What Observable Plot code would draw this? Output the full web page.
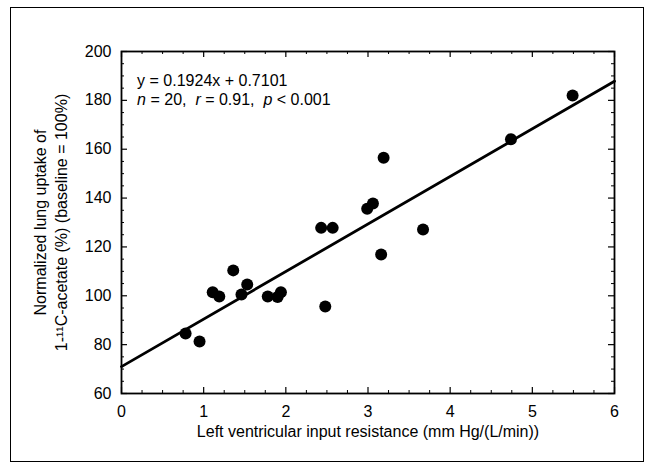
<!DOCTYPE html>
<html><head><meta charset="utf-8">
<script src="https://cdn.jsdelivr.net/npm/d3@7"></script>
<script src="https://cdn.jsdelivr.net/npm/@observablehq/plot@0.6"></script>
<style>
body{margin:0;background:#fff}
#wrap{position:relative;width:652px;height:468px}
#border{position:absolute;left:10px;top:7px;width:634px;height:455px;border:1.5px solid #000;box-sizing:border-box;pointer-events:none}
svg{display:block}
</style></head><body><div id="wrap"><div id="border"></div></div>
<script>
// Data
const resistance = [0.78, 0.95, 1.11, 1.19, 1.36, 1.46, 1.53, 1.78, 1.90, 1.94, 2.48, 2.43, 2.57, 2.99, 3.06, 3.19, 3.16, 3.67, 4.74, 5.49];
const uptake     = [84.6, 81.3, 101.4, 99.7, 110.4, 100.5, 104.6, 99.7, 99.5, 101.4, 95.6, 127.8, 127.8, 135.6, 137.8, 156.5, 116.9, 127.1, 164.1, 182.0];
const fitX = [0, 6];
const fitY = [71.0, 187.8];
const xTicks = [0, 1, 2, 3, 4, 5, 6];
const yTicks = [60, 80, 100, 120, 140, 160, 180, 200];
const xMinor = [0.25,0.5,0.75,1.25,1.5,1.75,2.25,2.5,2.75,3.25,3.5,3.75,4.25,4.5,4.75,5.25,5.5,5.75];
const yMinor = [65,70,75,85,90,95,105,110,115,125,130,135,145,150,155,165,170,175,185,190,195];
const xLabel = "Left ventricular input resistance (mm Hg/(L/min))";
const yLabel1 = "Normalized lung uptake of";
const yLabel2 = "1-\u00B9\u00B9C-acetate (%) (baseline = 100%)";
const eqText = "y = 0.1924x + 0.7101";
const statsText = "n = 20,  r = 0.91,  p < 0.001";
const annX = 0.19;
const annY = [188.1, 180.3];

const points = resistance.map((x, i) => ({x, y: uptake[i]}));
const fit = fitX.map((x, i) => ({x, y: fitY[i]}));

// frame inner size (for tick lengths via insets)
const W = 652, H = 468, ML = 121, MR = 38, MT = 51, MB = 75;
const FW = W - ML - MR, FH = H - MT - MB;
const major = 6, minor = 3;

const chart = Plot.plot({
  width: W,
  height: H,
  marginLeft: ML,
  marginRight: MR,
  marginTop: MT,
  marginBottom: MB,
  style: {fontFamily: "'Liberation Sans', Arial, sans-serif", fontSize: "16px", color: "#000", background: "transparent"},
  x: {domain: [0, 6], axis: null},
  y: {domain: [60, 200], axis: null},
  marks: [
    Plot.frame({strokeWidth: 1.8}),
    // tick labels
    Plot.axisX({ticks: xTicks, tickSize: 0, tickPadding: 12, label: null, tickFormat: d => String(d), fontSize: 16}),
    Plot.axisY({ticks: yTicks, tickSize: 0, tickPadding: 10, label: null, tickFormat: d => String(d), fontSize: 16}),
    // inward major ticks (bottom, top, left, right)
    Plot.tickX(xTicks, {x: d => d, insetTop: FH - major, strokeWidth: 1.2}),
    Plot.tickX(xTicks, {x: d => d, insetBottom: FH - major, strokeWidth: 1.2}),
    Plot.tickY(yTicks, {y: d => d, insetRight: FW - major, strokeWidth: 1.2}),
    Plot.tickY(yTicks, {y: d => d, insetLeft: FW - major, strokeWidth: 1.2}),
    // inward minor ticks
    Plot.tickX(xMinor, {x: d => d, insetTop: FH - minor}),
    Plot.tickX(xMinor, {x: d => d, insetBottom: FH - minor}),
    Plot.tickY(yMinor, {y: d => d, insetRight: FW - minor}),
    Plot.tickY(yMinor, {y: d => d, insetLeft: FW - minor}),
    // axis titles
    Plot.text([xLabel], {frameAnchor: "bottom", dy: 43, text: d => d, fontSize: 16}),
    Plot.text([yLabel1], {frameAnchor: "left", dx: -81, rotate: -90, textAnchor: "middle", text: d => d, fontSize: 16}),
    Plot.text([yLabel2], {frameAnchor: "left", dx: -60, rotate: -90, textAnchor: "middle", text: d => d, fontSize: 16}),
    // regression line and points
    Plot.line(fit, {x: "x", y: "y", strokeWidth: 2.8, stroke: "#000"}),
    Plot.dot(points, {x: "x", y: "y", r: 6, fill: "#000", stroke: "none"}),
    // annotation
    Plot.text([eqText], {x: annX, y: annY[0], text: d => d, textAnchor: "start", fontSize: 16}),
    Plot.text([statsText], {x: annX, y: annY[1], text: d => d, textAnchor: "start", fontSize: 16})
  ]
});

document.getElementById("wrap").prepend(chart);

// italicize n, r, p in the stats line
d3.select(chart).selectAll("text").filter(function() { return this.textContent === statsText; })
  .each(function() {
    const t = d3.select(this);
    t.text(null);
    const parts = [["n", true], [" = 20,  ", false], ["r", true], [" = 0.91,  ", false], ["p", true], [" < 0.001", false]];
    for (const [s, it] of parts) {
      const ts = t.append("tspan").text(s);
      if (it) ts.attr("font-style", "italic");
    }
    t.attr("xml:space", "preserve").style("white-space", "pre");
  });
</script>
</body></html>
